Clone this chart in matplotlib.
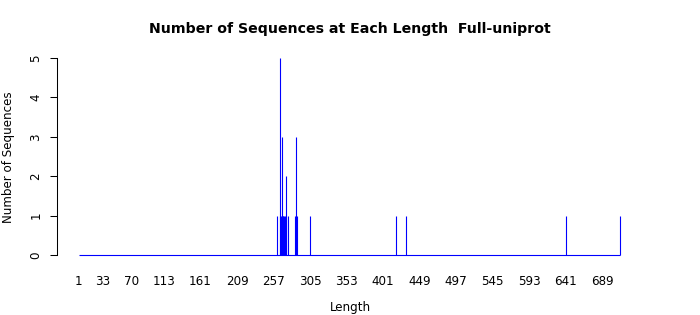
import matplotlib
matplotlib.use("Agg")
import matplotlib.pyplot as plt
import numpy as np

# data
lengths = [262, 265, 266, 267, 268, 269, 270, 271, 272, 273, 274, 276,
           285, 287, 288, 305, 418, 431, 641, 712]
counts = [1, 1, 5, 1, 3, 1, 1, 1, 1, 2, 1, 1,
          1, 3, 1, 1, 1, 1, 1, 1]
length_range = [1, 712]
xtick_labels = [1, 33, 70, 113, 161, 209, 257, 305, 353, 401, 449, 497, 545, 593, 641, 689]
yticks = [0, 1, 2, 3, 4, 5]

plt.rcParams['font.family'] = ['DejaVu Sans']
fig = plt.figure(figsize=(7, 3.15), dpi=100)
ax = fig.add_axes([57/700, 1 - 263/315, (641.6 - 57)/700, (263 - 50)/315])

blue = "#0000FF"
ax.hlines(0, length_range[0], length_range[1], color=blue, lw=0.8)
ax.vlines(lengths, 0, counts, color=blue, lw=0.8)

span = length_range[1] - length_range[0]
ax.set_xlim(length_range[0] - 0.04 * span, length_range[1] + 0.04 * span)
ax.set_ylim(-0.2, 5.2)

for s in ['top', 'right', 'bottom']:
    ax.spines[s].set_visible(False)
ax.spines['left'].set_bounds(0, 5)
ax.spines['left'].set_linewidth(0.75)

fs = 8.6
ax.set_xticks(xtick_labels)
ax.set_xticklabels([str(v) for v in xtick_labels], fontsize=fs)
ax.tick_params(axis='x', length=0, pad=8.5)
ax.set_yticks(yticks)
ax.set_yticklabels([str(v) for v in yticks], fontsize=fs, rotation=90, va='center')
ax.tick_params(axis='y', length=5, width=0.75, pad=5.5)

fig.text(350/700, 1 - 308/315, "Length", ha='center', va='center', fontsize=fs)
fig.text(9/700, 1 - 157/315, "Number of Sequences", ha='center', va='center',
         rotation=90, fontsize=fs)
fig.text(350/700, 1 - 29/315, "Number of Sequences at Each Length  Full-uniprot",
         ha='center', va='center', fontsize=10.2, fontweight='bold')

fig.savefig("out.png", dpi=100)
